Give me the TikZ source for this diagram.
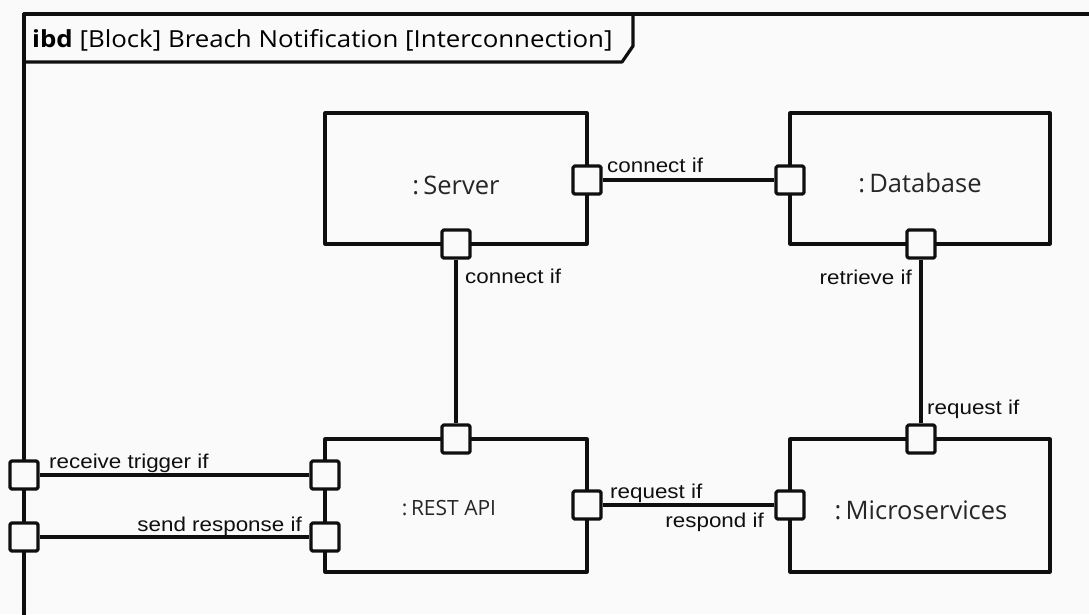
\documentclass[tikz,border=0pt]{standalone}
\usepackage{fontspec}
\setmainfont{Liberation Sans}
\newfontfamily\labfont[FakeStretch=1.12]{Liberation Sans}
\newfontfamily\blkfont{Open Sans}
\newfontfamily\ttlfont[FakeStretch=1.1]{Open Sans}
\definecolor{bgc}{RGB}{250,250,250}
\definecolor{ink}{RGB}{15,15,15}
\tikzset{
  x=1pt, y=-1pt,
  lw/.style={line width=3.2pt, line join=round, draw=ink},
  blockbox/.style={lw, rectangle, inner sep=0pt},
  port/.style={lw, fill=bgc, rectangle, minimum size=28pt, inner sep=0pt, rounded corners=1.5pt},
  conn/.style={lw},
  lbl/.style={font=\labfont\fontsize{20}{24}\selectfont, text=ink, inner sep=0pt},
  blkname/.style={font=\blkfont\fontsize{25.5}{30}\selectfont, text=black!85, inner sep=0pt},
}
\begin{document}
\begin{tikzpicture}
\fill[bgc] (0,0) rectangle (1089,614);
\useasboundingbox (0,0) rectangle (1089,614);
% frame
\draw[lw] (24,616) -- (24,14) -- (1092,14);
\draw[lw] (24,62) -- (622,62) -- (633,46) -- (633,14);
\node[anchor=west, inner sep=0pt, font=\ttlfont\fontsize{23.5}{28}\selectfont] (title) at (32,40)
  {\textbf{ibd} [Block] Breach Notification [Interconnection]};
% blocks
\draw[blockbox] (325,113) rectangle (587,244);
\node[blkname] (server) at (456,185) {:\,Server};
\draw[blockbox] (790,113) rectangle (1050,244);
\node[blkname] (database) at (920,183) {:\,Database};
\draw[blockbox] (325,439) rectangle (587,572);
\node[blkname, font=\blkfont\fontsize{21}{25}\selectfont] (rest) at (449,508) {:\,REST API};
\draw[blockbox] (790,439) rectangle (1050,572);
\node[blkname] (micro) at (921,510) {:\,Microservices};
% ports
\node[port] (sR) at (587,180) {};
\node[port] (sB) at (456,244) {};
\node[port] (dL) at (790,180) {};
\node[port] (dB) at (921,244) {};
\node[port] (rT) at (456,439) {};
\node[port] (rL1) at (325,475) {};
\node[port] (rL2) at (325,537) {};
\node[port] (rR) at (587,505) {};
\node[port] (mT) at (921,439) {};
\node[port] (mL) at (790,505) {};
\node[port] (f1) at (24,475) {};
\node[port] (f2) at (24,537) {};
% connectors
\draw[conn] (sR) -- (dL);
\draw[conn] (sB) -- (rT);
\draw[conn] (dB) -- (mT);
\draw[conn] (rR) -- (mL);
\draw[conn] (f1) -- (rL1);
\draw[conn] (f2) -- (rL2);
% labels
\node[lbl, anchor=west] (l1) at (607,165) {connect if};
\node[lbl, anchor=west] (l2) at (465,276) {connect if};
\node[lbl, anchor=east] (l3) at (912,277) {retrieve if};
\node[lbl, anchor=west] (l4) at (927,409) {request if};
\node[lbl, anchor=west] (l5) at (610,493) {request if};
\node[lbl, anchor=east] (l6) at (764,522) {respond if};
\node[lbl, anchor=west] (l7) at (49,463) {receive trigger if};
\node[lbl, anchor=east] (l8) at (302,526) {send response if};
\end{tikzpicture}
\end{document}
